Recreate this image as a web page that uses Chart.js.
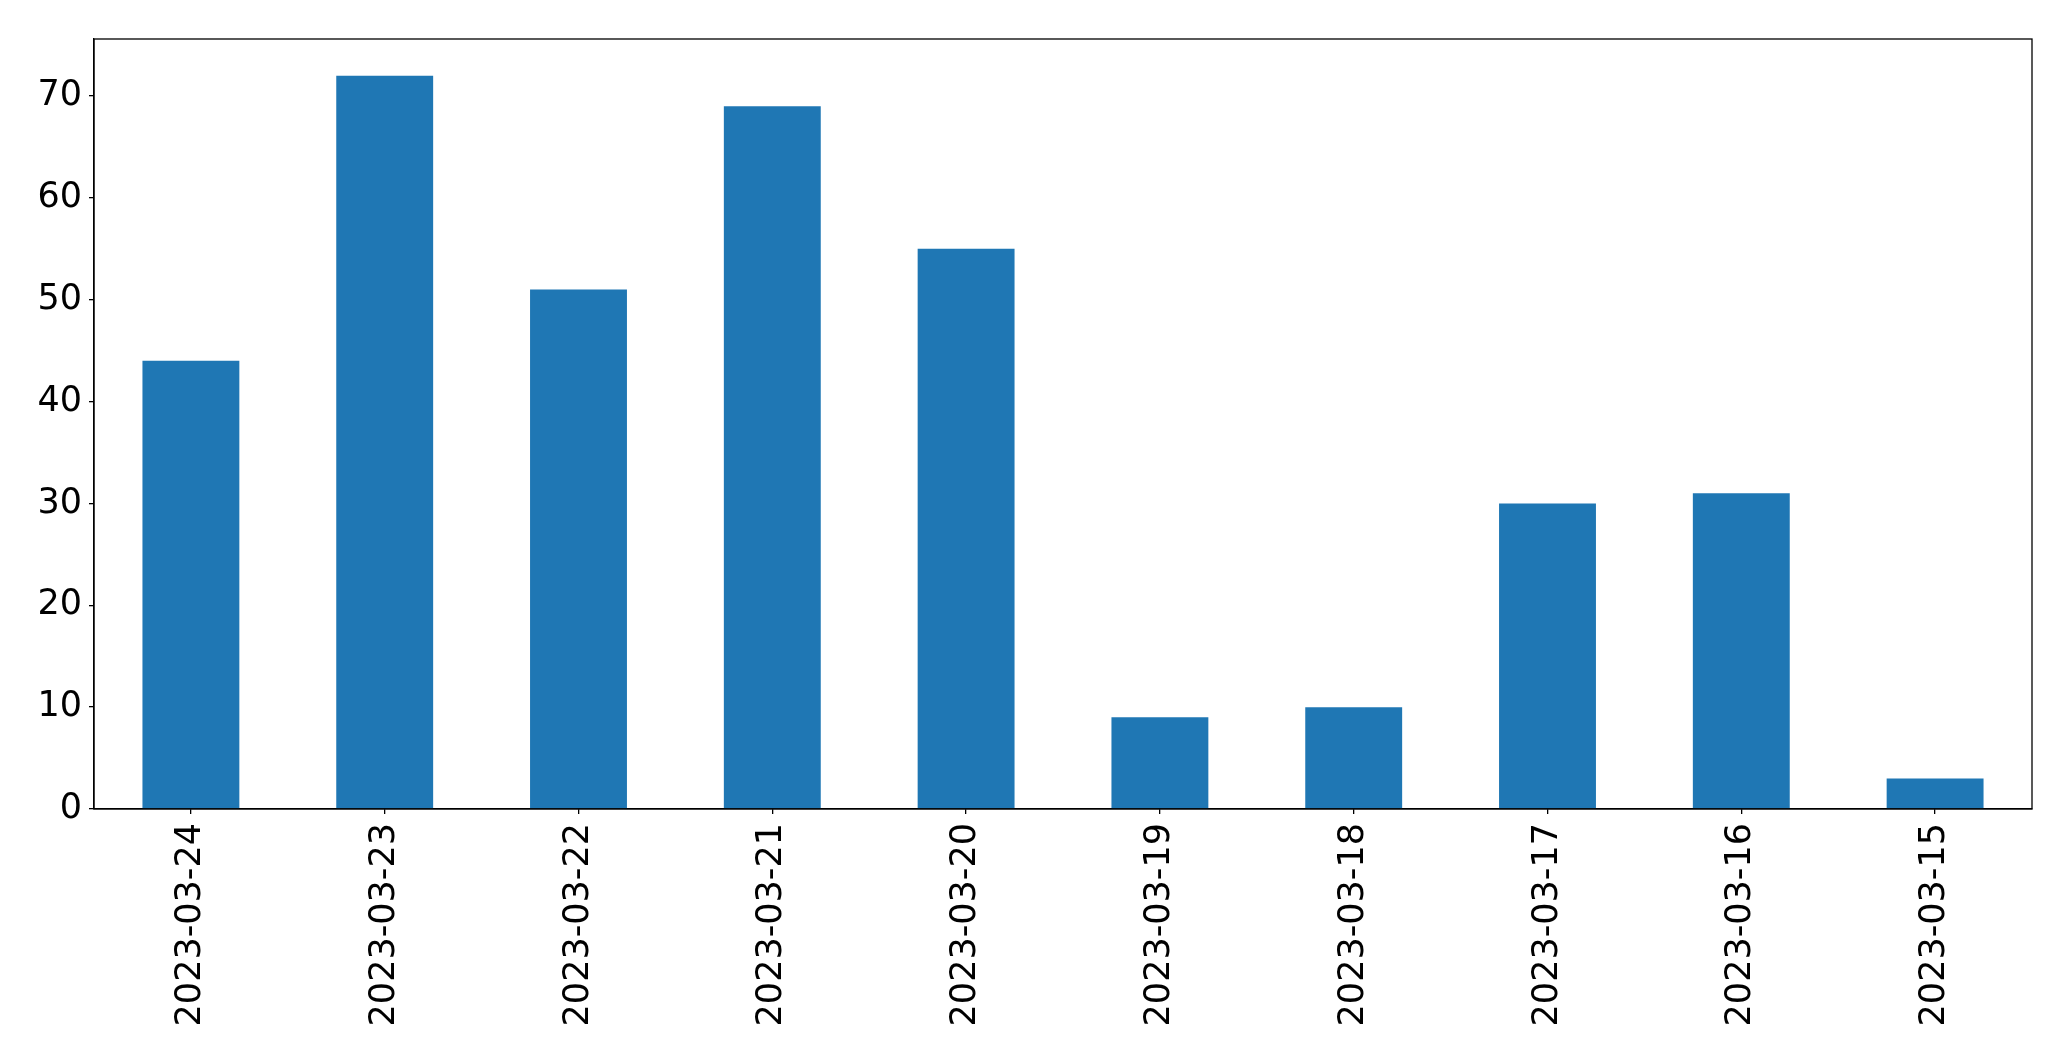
<!DOCTYPE html>
<html>
<head>
<meta charset="utf-8">
<script src="https://cdn.jsdelivr.net/npm/chart.js@4.4.0/dist/chart.umd.min.js"></script>
<style>
  html, body { margin: 0; padding: 0; background: #fff; }
  canvas { display: block; }
</style>
</head>
<body>
<canvas id="barChart" width="2071" height="1061"></canvas>
<script>
const dates = ['2023-03-24', '2023-03-23', '2023-03-22', '2023-03-21', '2023-03-20',
               '2023-03-19', '2023-03-18', '2023-03-17', '2023-03-16', '2023-03-15'];
const counts = [44, 72, 51, 69, 55, 9, 10, 30, 31, 3];
const yTicks = [0, 10, 20, 30, 40, 50, 60, 70];

// draws the top and right edges of the axes box
const frameBox = {
    id: 'frameBox',
    afterDraw(chart) {
        const { ctx, chartArea } = chart;
        ctx.save();
        ctx.strokeStyle = '#000';
        ctx.lineWidth = 1.3;
        ctx.strokeRect(chartArea.left, chartArea.top,
            chartArea.right - chartArea.left, chartArea.bottom - chartArea.top);
        ctx.restore();
    }
};

const tickFont = { family: 'DejaVu Sans', size: 35 };

const barCtx = document.getElementById('barChart').getContext('2d');
new Chart(barCtx, {
    type: 'bar',
    data: {
        labels: dates,
        datasets: [{
            data: counts,
            backgroundColor: '#1f77b4',
            borderWidth: 0,
            categoryPercentage: 1.0,
            barPercentage: 0.5
        }]
    },
    options: {
        responsive: false,
        animation: false,
        layout: { padding: { top: 39, right: 39, left: 0, bottom: 0 } },
        plugins: {
            legend: { display: false },
            tooltip: { enabled: false }
        },
        scales: {
            x: {
                grid: { display: true, offset: false, drawOnChartArea: false, drawTicks: true, tickLength: 5, color: '#000', lineWidth: 1.3 },
                border: { display: true, color: '#000', width: 1.3 },
                ticks: { color: '#000', font: tickFont, minRotation: 90, maxRotation: 90, padding: 9, autoSkip: false },
                afterFit(scale) { scale.height = 252; }
            },
            y: {
                min: 0,
                max: 75.6,
                grid: { display: true, drawOnChartArea: false, drawTicks: true, tickLength: 5, color: '#000', lineWidth: 1.3 },
                border: { display: true, color: '#000', width: 1.3 },
                ticks: { color: '#000', font: tickFont, padding: 7 },
                afterBuildTicks(scale) { scale.ticks = yTicks.map(v => ({ value: v })); },
                afterFit(scale) { scale.width = 94; }
            }
        }
    },
    plugins: [frameBox]
});
</script>
</body>
</html>
